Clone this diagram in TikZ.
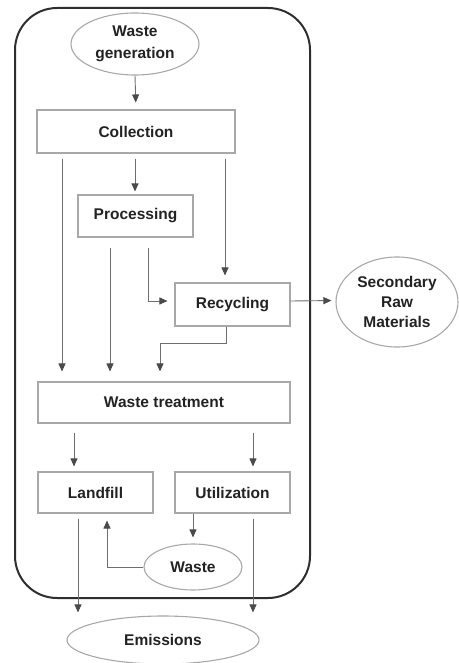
\documentclass[tikz,border=0pt]{standalone}
\usepackage{fontspec}
\setmainfont{Liberation Sans}
\usetikzlibrary{shapes.geometric,arrows.meta}
\definecolor{linegray}{HTML}{6E6E6E}
\definecolor{headgray}{HTML}{4A4A4A}
\definecolor{boxgray}{HTML}{A8A8A8}
\definecolor{txtgray}{HTML}{222222}
\definecolor{framecol}{HTML}{2E2E2E}
\begin{document}
\begin{tikzpicture}[x=1pt,y=-1pt,
  every node/.style={font=\fontsize{15.5}{20}\selectfont\bfseries, text=txtgray, align=center, inner sep=0pt},
  boxnode/.style={draw=boxgray, line width=1.1pt, rectangle},
  ellnode/.style={draw=boxgray, line width=1.1pt, ellipse},
  arr/.style={draw=linegray, line width=0.9pt, -{Triangle[length=8pt,width=7pt,color=headgray]}},
]
\useasboundingbox (0,0) rectangle (458,663);
\draw[framecol, line width=2pt, rounded corners=42pt] (15,8) rectangle (310,598);

\node[ellnode, minimum width=128pt, minimum height=62pt, font=\fontsize{15.5}{22}\selectfont\bfseries] (wg) at (135,44) {Waste\\generation};
\node[boxnode, minimum width=198pt, minimum height=43pt] (coll) at (136,131.5) {Collection};
\node[boxnode, minimum width=115pt, minimum height=42pt] (proc) at (135.5,216) {Processing};
\node[boxnode, minimum width=115pt, minimum height=43pt] (rec) at (232.5,304.5) {Recycling};
\node[ellnode, minimum width=122pt, minimum height=90pt] (srm) at (397,302) {Secondary\\Raw\\Materials};
\node[boxnode, minimum width=252pt, minimum height=41pt] (wt) at (164,402.5) {Waste treatment};
\node[boxnode, minimum width=115pt, minimum height=41pt] (lf) at (95.5,492.5) {Landfill};
\node[boxnode, minimum width=115pt, minimum height=41pt] (ut) at (232.5,492.5) {Utilization};
\node[ellnode, minimum width=98pt, minimum height=46pt] (waste) at (193,567) {Waste};
\node[ellnode, minimum width=192pt, minimum height=48pt] (em) at (163,640) {Emissions};

% Waste generation -> Collection
\draw[arr, shorten >=7pt] (wg.south) -- (coll.north);
% Collection -> Waste treatment / Processing / Recycling
\draw[arr, shorten <=5pt, shorten >=10pt] ([xshift=-74pt]coll.south) -- ([xshift=-74pt]coll.south |- wt.north);
\draw[arr, shorten <=5pt, shorten >=3pt] ([xshift=-1pt]coll.south) -- ([xshift=-1pt]coll.south |- proc.north);
\draw[arr, shorten <=5pt, shorten >=7pt] ([xshift=89pt]coll.south) -- ([xshift=89pt]coll.south |- rec.north);
% Processing -> Waste treatment / Recycling
\draw[arr, shorten <=10pt, shorten >=10pt] ([xshift=-25.5pt]proc.south) -- ([xshift=-25.5pt]proc.south |- wt.north);
\draw[arr, shorten >=7pt] ([xshift=12.5pt,yshift=-10pt]proc.south) |- ([yshift=3.5pt]rec.west);
% Recycling -> Waste treatment
\draw[arr, shorten >=10pt] ([xshift=-6.5pt]rec.south) -- ++(0,17) -| ([xshift=-4pt]wt.north);
% Recycling -> Secondary Raw Materials
\draw[arr, shorten >=4pt] ([yshift=3.5pt]rec.east) -- ([yshift=1.5pt]srm.west);
% Waste treatment -> Landfill / Utilization
\draw[arr, shorten <=9pt, shorten >=5pt] ([xshift=-90pt]wt.south) -- ([xshift=-90pt]wt.south |- lf.north);
\draw[arr, shorten <=9pt, shorten >=5pt] ([xshift=89pt]wt.south) -- ([xshift=89pt]wt.south |- ut.north);
% Landfill / Utilization -> Emissions
\draw[arr, shorten <=5pt, shorten >=3pt] ([xshift=-17.5pt]lf.south) -- ([xshift=-17.5pt]lf.south |- em.north);
\draw[arr, shorten <=5pt, shorten >=3pt] ([xshift=20.5pt]ut.south) -- ([xshift=20.5pt]ut.south |- em.north);
% Utilization -> Waste
\draw[arr, shorten >=6pt] ([xshift=-39.5pt]ut.south) -- (waste.north);
% Waste -> Landfill
\draw[arr, shorten >=7pt] (waste.west) -| ([xshift=11.5pt]lf.south);
\end{tikzpicture}
\end{document}
